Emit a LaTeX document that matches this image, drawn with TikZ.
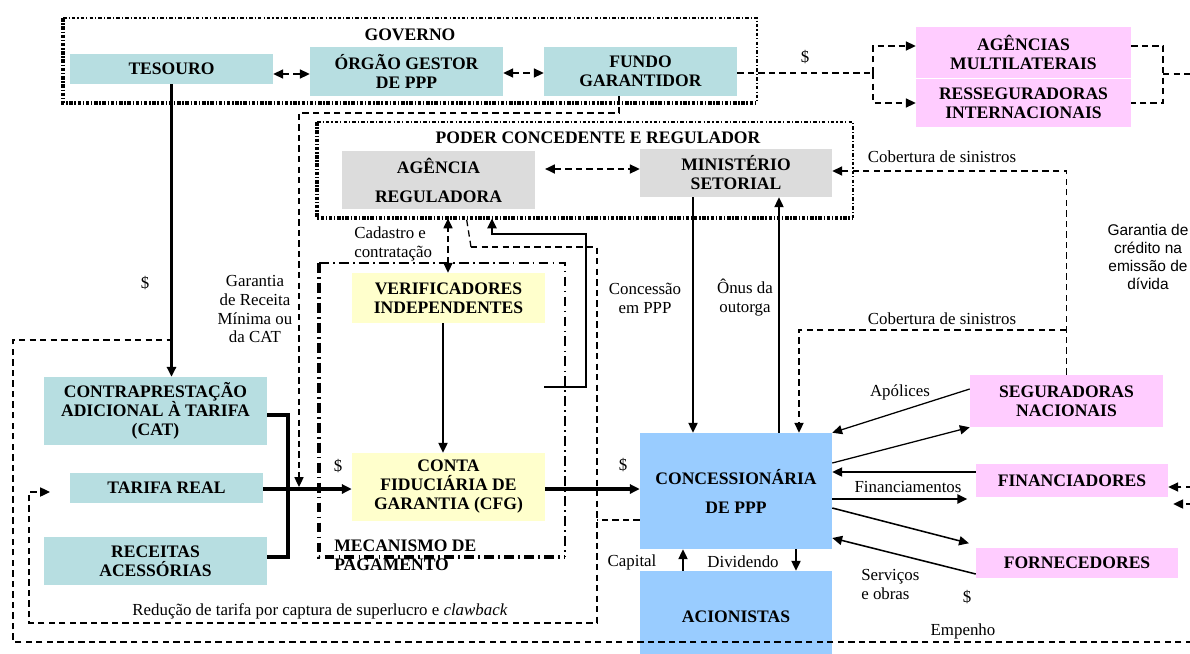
\documentclass[tikz,border=0pt]{standalone}
\usepackage{fontspec}
\setmainfont{Liberation Serif}
\newfontfamily\sansfam{Liberation Sans}
\usepackage{xcolor}
\usepackage{tikz}
\usetikzlibrary{arrows.meta}

\definecolor{tealbox}{RGB}{183,222,225}
\definecolor{graybox}{RGB}{220,220,220}
\definecolor{yellowbox}{RGB}{255,255,204}
\definecolor{pinkbox}{RGB}{255,204,255}
\definecolor{bluebox}{RGB}{153,204,255}

\tikzset{
  bx/.style={inner sep=0pt, align=center, font=\bfseries\fontsize{12.5}{13.5}\selectfont},
  sz/.style 2 args={minimum width=#1*0.025cm, minimum height=#2*0.025cm},
  lbl/.style={inner sep=0pt, align=center, font=\fontsize{12}{13.5}\selectfont},
  tip/.style={-{Triangle[length=7pt,width=6.5pt]}},
  dtip/.style={{Triangle[length=7pt,width=6.5pt]}-{Triangle[length=7pt,width=6.5pt]}},
  arr/.style={tip, line width=1.1pt},
  thk/.style={line width=2.6pt},
  dsh/.style={line width=0.9pt, dash pattern=on 4.5pt off 3pt},
  grpthin/.style={line width=1pt, dash pattern=on 2.5pt off 1.5pt on 0.8pt off 1.5pt},
  grpthick/.style={line width=2.4pt, dash pattern=on 2.5pt off 1.2pt on 1pt off 1.2pt},
  mecthin/.style={line width=1.1pt, dash pattern=on 7pt off 3pt on 1.2pt off 3pt},
  mecthick/.style={line width=2.6pt, dash pattern=on 7pt off 3pt on 1.2pt off 3pt},
}

\begin{document}
\begin{tikzpicture}[x=0.025cm, y=-0.025cm]
  % one unit = one pixel of the 1190 x 653 sheet, y grows downwards
  \useasboundingbox (0,0) rectangle (1190,653);

  % Group frames (thin top/right, heavy left/bottom)
  \draw[grpthin] (63,18) -- (757,18) -- (757,103);
  \draw[grpthick] (63,18) -- (63,103) -- (757,103);
  \draw[grpthin] (317,122) -- (853,122) -- (853,218);
  \draw[grpthick] (317,122) -- (317,218) -- (853,218);
  \draw[mecthin] (319,263) -- (565,263) -- (565,557);
  \draw[mecthick] (319,263) -- (319,557) -- (565,557);
  \node[bx] (gov) at (410,35) {GOVERNO};
  \node[bx] (poder) at (598,138) {PODER CONCEDENTE E REGULADOR};
  \node[bx, align=left, anchor=west] (mec) at (334,555) {MECANISMO DE\\PAGAMENTO};

  % Boxes
  \node[bx, sz={203}{30}, fill=tealbox] (tes) at (171.5,69) {TESOURO};
  \node[bx, sz={193}{49}, fill=tealbox] (orgao) at (406.5,71.5) {ÓRGÃO GESTOR\\DE PPP};
  \node[bx, sz={193}{49}, fill=tealbox] (fundo) at (640.5,71.5) {FUNDO\\GARANTIDOR};
  \node[bx, sz={215}{51}, fill=pinkbox] (agmul) at (1023.5,52.5) {AGÊNCIAS\\MULTILATERAIS};
  \node[bx, sz={215}{48}, fill=pinkbox] (resseg) at (1023.5,103) {RESSEGURADORAS\\INTERNACIONAIS};
  \node[bx, sz={193}{58}, fill=graybox, font=\bfseries\fontsize{12.5}{20.6}\selectfont] (agreg) at (438.5,180) {AGÊNCIA\\REGULADORA};
  \node[bx, sz={192}{48}, fill=graybox] (minist) at (736,173) {MINISTÉRIO\\SETORIAL};
  \node[bx, sz={193}{50}, fill=yellowbox] (verif) at (448.5,298) {VERIFICADORES\\INDEPENDENTES};
  \node[bx, sz={193}{68}, fill=yellowbox] (cfg) at (448.5,487) {CONTA\\FIDUCIÁRIA DE\\GARANTIA (CFG)};
  \node[bx, sz={192}{116}, fill=bluebox, font=\bfseries\fontsize{12.5}{20.6}\selectfont] (conc) at (736,491) {CONCESSIONÁRIA\\DE PPP};
  \node[bx, sz={192}{92}, fill=bluebox] (acion) at (736,617) {ACIONISTAS};
  \node[bx, sz={193}{52}, fill=pinkbox] (segur) at (1066.5,401) {SEGURADORAS\\NACIONAIS};
  \node[bx, sz={192}{33}, fill=pinkbox] (financ) at (1072,480.5) {FINANCIADORES};
  \node[bx, sz={202}{30}, fill=pinkbox] (fornec) at (1077,563) {FORNECEDORES};
  \node[bx, sz={223}{68}, fill=tealbox] (cat) at (155.5,411) {CONTRAPRESTAÇÃO\\ADICIONAL À TARIFA\\(CAT)};
  \node[bx, sz={193}{30}, fill=tealbox] (tarifa) at (166.5,488) {TARIFA REAL};
  \node[bx, sz={223}{48}, fill=tealbox] (receit) at (155.5,561) {RECEITAS\\ACESSÓRIAS};

  % Free ends and split points
  \coordinate (fj) at (873,73);
  \coordinate (rj) at (1163,74);
  \coordinate (re) at (1192,74);
  \coordinate (cj) at (1066,330);
  \coordinate (gj) at (299,487);
  \coordinate (vj) at (544,387);
  \coordinate (dj) at (471,247);
  \coordinate (ej) at (1192,642);
  \coordinate (fe1) at (1192,487);
  \coordinate (fe2) at (1192,504);

  % Governo
  \draw[dsh, dtip] (tes.east |- 0,74) -- (orgao.west |- 0,74);
  \draw[dsh, dtip] (orgao.east |- 0,73) -- (fundo.west |- 0,73);
  \draw[dsh] (fundo.east |- 0,73) -- (fj);
  \draw[dsh, tip] (fj) |- (agmul.west |- 0,46);
  \draw[dsh, tip] (fj) |- (resseg.west |- 0,103);
  \node[lbl] (d1) at (805,57) {\$};
  \draw[dsh] (agmul.east |- 0,46) -| (rj) |- (resseg.east |- 0,103);
  \draw[dsh] (rj) -- (re);

  % Poder concedente
  \draw[dsh, dtip, shorten <=7pt] (agreg.east |- 0,169) -- (minist.west |- 0,169);
  \draw[dsh, tip] (segur.north) |- (minist.east |- 0,171);
  \draw[dsh, tip] (cj) -| (conc.north -| 799,0);
  \node[lbl] (cob1) at (942,157) {Cobertura de sinistros};
  \node[lbl] (cob2) at (942,319) {Cobertura de sinistros};
  \draw[arr] (minist.south -| 693,0) -- (conc.north -| 693,0);
  \draw[arr] (conc.north -| 779,0) -- (minist.south -| 779,0);
  \node[lbl] (l_conc) at (645,298) {Concessão\\em PPP};
  \node[lbl] (l_onus) at (745,298) {Ônus da\\outorga};

  % Verificadores
  \draw[dsh, dtip, shorten >=6.5pt] (verif.north -| 448,0) -- (agreg.south -| 448,0);
  \node[lbl, align=left, anchor=west] (l_cad) at (354,244) {Cadastro e\\contratação};
  \draw[arr] (verif.south -| 443,0) -- (cfg.north -| 443,0);
  \draw[arr, shorten >=6.5pt] (vj) -- (586,387) -- (586,234) -- (492,234) -- (agreg.south -| 492,0);

  % Reducao de tarifa
  \draw[dsh] (conc.west |- 0,520) -- (597,520);
  \draw[dsh, tip, shorten >=14pt] (dj) -- (597,247) -- (597,623) -- (29,623) -- (29,492) -- (tarifa.west |- 0,492);
  \draw[dsh, shorten >=6.5pt] (dj) -- (agreg.south -| 465,0);
  \node[lbl] (l_red) at (320,611) {Redução de tarifa por captura de superlucro e \textit{clawback}};

  % Garantia de receita minima
  \draw[dsh, tip] (fundo.south -| 619,0) |- (299,113) -- (gj);
  \node[lbl] (l_gar) at (255,309) {Garantia\\de Receita\\Mínima ou\\da CAT};

  % Tesouro and empenho
  \draw[thk, tip] (tes.south) -- (tes.south |- cat.north);
  \node[lbl] (d2) at (145,283) {\$};
  \draw[dsh] (ej) -- (13,642) -- (13,340) -- (tes.south |- 0,340);
  \node[lbl] (l_emp) at (963,631) {Empenho};

  % Payment flows
  \draw[thk] (cat.east |- 0,415) -| (288,557) -- (receit.east |- 0,557);
  \draw[thk, tip] (tarifa.east |- 0,489) -- (cfg.west |- 0,489);
  \draw[thk, tip] (cfg.east |- 0,489) -- (conc.west |- 0,489);
  \node[lbl] (d3) at (338,466) {\$};
  \node[lbl] (d4) at (623,465) {\$};

  % Acionistas
  \draw[arr] (acion.north -| 683,0) -- (conc.south -| 683,0);
  \draw[arr] (conc.south -| 796,0) -- (acion.north -| 796,0);
  \node[lbl] (l_cap) at (632,562) {Capital};
  \node[lbl] (l_div) at (743,562) {Dividendo};

  % Seguradoras, financiadores, fornecedores
  \draw[tip, line width=0.9pt] (segur.west |- 0,389) -- (conc.north east);
  \draw[tip, line width=0.9pt] (conc.east |- 0,463) -- (segur.south west);
  \node[lbl] (l_apol) at (900,392) {Apólices};
  \draw[arr] (financ.west |- 0,472) -- (conc.east |- 0,472);
  \draw[arr, shorten >=6pt] (conc.east |- 0,499) -- (financ.west |- 0,499);
  \node[lbl] (l_fin) at (908,487) {Financiamentos};
  \draw[arr, shorten >=5pt] (conc.east |- 0,508) -- (fornec.west |- 0,545);
  \draw[arr] (fornec.west |- 0,574) -- (conc.east |- 0,538);
  \node[lbl, align=left, anchor=west] (l_serv) at (861,584) {Serviços\\e obras};
  \node[lbl] (d5) at (967,597) {\$};
  \draw[dsh, tip] (fe1) -- (financ.east |- 0,487);
  \draw[dsh, tip, shorten >=3.5pt] (fe2) -- (financ.east |- 0,504);

  \node[lbl, font=\sansfam\fontsize{11}{12.8}\selectfont] (l_gcr) at (1148,257) {Garantia de\\crédito na\\emissão de\\dívida};
\end{tikzpicture}
\end{document}
